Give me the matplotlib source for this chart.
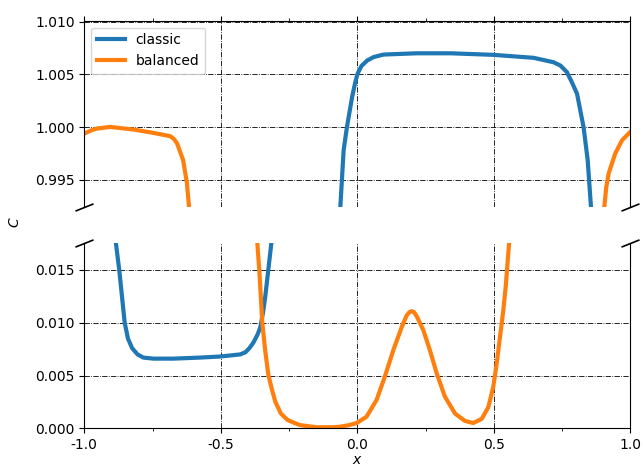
import matplotlib
matplotlib.use('Agg')
import matplotlib.pyplot as plt
from matplotlib.ticker import MultipleLocator, FormatStrFormatter

# values; points just outside the axis limits let the curves run into the break
x_classic = [-0.886, -0.884, -0.872, -0.862, -0.852, -0.840, -0.825, -0.805, -0.784, -0.747, -0.674,
             -0.576, -0.502, -0.429, -0.410, -0.395, -0.381, -0.365, -0.355, -0.345, -0.337, -0.326, -0.315, -0.313,
             -0.064, -0.062, -0.050, -0.038, -0.019, -0.008, 0.001, 0.015, 0.036, 0.060, 0.096, 0.219,
             0.341, 0.499, 0.646, 0.719, 0.744, 0.768, 0.786, 0.805, 0.829, 0.844, 0.856, 0.858]
c_classic = [0.0190, 0.0175, 0.0150, 0.0125, 0.0100, 0.0085, 0.0076, 0.0070, 0.0067, 0.0066, 0.0066,
             0.0067, 0.0068, 0.0070, 0.0072, 0.0076, 0.0081, 0.0089, 0.0096, 0.0110, 0.0125, 0.0150, 0.0175, 0.0190,
             0.9900, 0.99248, 0.99783, 1.0000, 1.00286, 1.00420, 1.00507, 1.00580, 1.00632, 1.00665, 1.00689, 1.00701,
             1.00701, 1.00686, 1.00658, 1.00616, 1.00585, 1.00522, 1.00427, 1.00318, 1.0000, 0.99689, 0.99248, 0.9900]

x_balanced = [-1.0, -0.975, -0.953, -0.905, -0.819, -0.746, -0.685, -0.672, -0.660, -0.638, -0.624, -0.617, -0.615,
              -0.368, -0.366, -0.359, -0.348, -0.337, -0.326, -0.313, -0.300, -0.280, -0.256, -0.230, -0.209,
              -0.150, -0.088, -0.063, -0.030, -0.002, 0.034, 0.071, 0.101, 0.132, 0.163, 0.181, 0.191, 0.199,
              0.208, 0.218, 0.242, 0.266, 0.291, 0.321, 0.358, 0.394, 0.425, 0.456, 0.480, 0.498, 0.511, 0.523,
              0.535, 0.544, 0.550, 0.556, 0.558,
              0.902, 0.905, 0.912, 0.921, 0.945, 0.970, 1.0]
c_balanced = [0.99940, 0.99970, 0.99988, 1.00003, 0.99978, 0.99946, 0.99915, 0.99890, 0.99846, 0.99689, 0.99469, 0.99264, 0.9900,
              0.0190, 0.0175, 0.0150, 0.0100, 0.0073, 0.0051, 0.0037, 0.0025, 0.0014, 0.0008, 0.0005, 0.0003,
              0.0001, 0.0001, 0.00015, 0.0003, 0.0005, 0.0011, 0.0027, 0.0049, 0.0074, 0.0096, 0.0107, 0.0110, 0.0111,
              0.0110, 0.0106, 0.0093, 0.0074, 0.0052, 0.0030, 0.0014, 0.0007, 0.0005, 0.0009, 0.0020, 0.0039, 0.0062, 0.0087,
              0.0112, 0.0135, 0.0155, 0.0175, 0.0190,
              0.9900, 0.99248, 0.99430, 0.99563, 0.99752, 0.99877, 0.99956]

plt.rcParams['axes.unicode_minus'] = False

fig = plt.figure(figsize=(6.43, 4.69), dpi=100)
ax_top = fig.add_axes([0.1311, 0.5593, 0.8491, 0.3966])
ax_bot = fig.add_axes([0.1311, 0.0868, 0.8491, 0.3945])

for ax in (ax_top, ax_bot):
    ax.plot(x_classic, c_classic, color='C0', linewidth=3, label='classic')
    ax.plot(x_balanced, c_balanced, color='C1', linewidth=3, label='balanced')
    ax.set_xlim(-1, 1)
    ax.xaxis.set_major_locator(MultipleLocator(0.5))
    ax.xaxis.set_minor_locator(MultipleLocator(0.25))
    ax.yaxis.set_major_locator(MultipleLocator(0.005))
    ax.yaxis.set_major_formatter(FormatStrFormatter('%.3f'))
    ax.grid(which='major', color='k', linestyle='-.', linewidth=0.6)

ax_top.set_ylim(0.99247, 1.0101)
ax_bot.set_ylim(0.0, 0.01753)

ax_top.spines['bottom'].set_visible(False)
ax_bot.spines['top'].set_visible(False)
ax_top.xaxis.tick_top()
ax_top.tick_params(axis='x', which='both', labeltop=False)
ax_bot.xaxis.tick_bottom()
ax_bot.xaxis.set_major_formatter(FormatStrFormatter('%.1f'))

ax_top.legend(loc='upper left')

# diagonal break marks
d = 0.4
kw = dict(marker=[(-1, -d), (1, d)], markersize=13, linestyle='none',
          color='k', mec='k', mew=1.2, clip_on=False)
ax_top.plot([0, 1], [0, 0], transform=ax_top.transAxes, **kw)
ax_bot.plot([0, 1], [1, 1], transform=ax_bot.transAxes, **kw)

ax_bot.set_xlabel('$x$', labelpad=1)
fig.text(0.024, 0.527, '$C$', rotation=90, ha='center', va='center', fontsize=10)

fig.savefig('out.png', dpi=100)
